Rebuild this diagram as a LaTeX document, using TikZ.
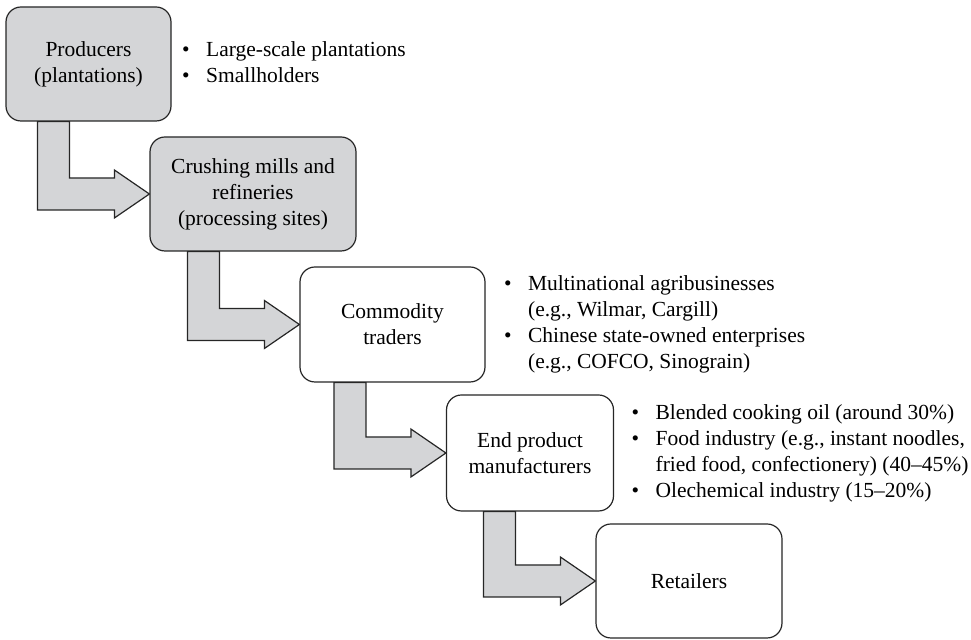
\documentclass[tikz,border=0pt]{standalone}
\usepackage{fontspec}
\setmainfont{Liberation Serif}
\usepackage{tikz}
\usetikzlibrary{calc,positioning}
\pgfdeclarelayer{edgelayer}
\pgfdeclarelayer{nodelayer}
\pgfsetlayers{edgelayer,nodelayer,main}
\definecolor{stagegray}{RGB}{212,213,215}
\tikzstyle{stage}=[rectangle, rounded corners=7.5pt, draw=black!85, fill=white, line width=0.6pt, align=center, minimum height=57pt, inner sep=2pt]
\tikzstyle{notes}=[inner sep=0pt, align=left]
\tikzstyle{blockarrow}=[draw=black!85, fill=stagegray, line width=0.6pt, line join=miter]
\newcommand{\listrows}[1]{\begin{tabular}{@{}c@{\hspace{8.3pt}}l@{}}#1\end{tabular}}
\newcommand{\stagearrow}[2]{%
  \draw [style=blockarrow] let \p1=(#1.south), \p2=(#2.west) in
    (\x2-56pt,\y1) -- (\x2-40pt,\y1) -- (\x2-40pt,\y2+8pt) -- (\x2-17.5pt,\y2+8pt)
    -- (\x2-17.5pt,\y2+12pt) -- (\x2,\y2) -- (\x2-17.5pt,\y2-12pt)
    -- (\x2-17.5pt,\y2-8pt) -- (\x2-56pt,\y2-8pt) -- cycle;}

\begin{document}
\begin{tikzpicture}[x=0.5pt, y=-0.5pt, font=\fontsize{10.75}{13}\selectfont]
            \useasboundingbox (0,0) rectangle (971,640);
            \begin{pgfonlayer}{nodelayer}
                \node [style=stage, fill=stagegray, minimum width=82.5pt] (prod) at (88.5,64) {Producers\\(plantations)};
                \node [style=stage, fill=stagegray, minimum width=103pt] (mill) at (253,194) {Crushing mills and\\refineries\\(processing sites)};
                \node [style=stage, minimum width=92.5pt, minimum height=57.5pt] (trade) at (392.5,324.5) {Commodity\\traders};
                \node [style=stage, minimum width=83.5pt, minimum height=58pt] (manu) at (530,453) {End product\\manufacturers};
                \node [style=stage, minimum width=93pt] (retail) at (689,581) {Retailers};
                \node [style=notes, right=5pt of prod] (prodnotes) {\listrows{%
                    \textbullet & Large-scale plantations\\
                    \textbullet & Smallholders}};
                \node [style=notes, right=9pt of trade] (tradenotes) {\listrows{%
                    \textbullet & Multinational agribusinesses\\
                                & (e.g., Wilmar, Cargill)\\
                    \textbullet & Chinese state-owned enterprises\\
                                & (e.g., COFCO, Sinograin)}};
                \node [style=notes, right=8.5pt of manu] (manunotes) {\listrows{%
                    \textbullet & Blended cooking oil (around 30\%)\\
                    \textbullet & Food industry (e.g., instant noodles,\\
                                & fried food, confectionery) (40--45\%)\\
                    \textbullet & Olechemical industry (15--20\%)}};
            \end{pgfonlayer}
            \begin{pgfonlayer}{edgelayer}
                \stagearrow{prod}{mill}
                \stagearrow{mill}{trade}
                \stagearrow{trade}{manu}
                \stagearrow{manu}{retail}
            \end{pgfonlayer}
\end{tikzpicture}
\end{document}
